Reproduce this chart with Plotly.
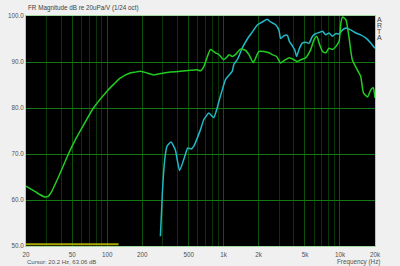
import plotly.graph_objects as go

# ---- data ----
green_f = [20, 24, 28.6, 31, 33.3, 38, 46.3, 52.9, 60, 76, 99, 115, 129, 157, 174, 192, 220, 250,
           306, 350, 426, 520, 592, 632, 676, 720, 771, 850, 910, 1000, 1060, 1113, 1186, 1262, 1396,
           1548, 1650, 1798, 2010, 2222, 2448, 2618, 2852, 3090, 3400, 3660, 4020, 4300, 4600, 5060,
           5600, 5980, 6325, 6620, 7080, 7540, 8040, 8640, 9240, 9830, 10180, 10530, 11240, 11920,
           12760, 14080, 15060, 15920, 17270, 18440, 19320, 20000]
green_db = [63.0, 61.8, 60.7, 60.8, 61.9, 65.0, 70.0, 73.0, 75.5, 80.0, 83.6, 85.3, 86.5, 87.6, 87.8, 88.0, 87.6, 87.2,
            87.6, 87.8, 88.0, 88.2, 88.3, 88.1, 89.0, 91.0, 92.7, 92.0, 91.6, 90.5, 91.0, 91.6, 91.2, 91.6, 92.8,
            92.5, 91.6, 89.9, 92.3, 92.3, 92.0, 91.6, 91.2, 89.8, 90.5, 90.9, 90.5, 90.1, 90.5, 90.9,
            92.7, 94.8, 95.6, 94.1, 92.3, 92.0, 93.0, 92.7, 93.4, 94.5, 98.5, 99.8, 99.2, 95.6,
            90.5, 88.3, 86.9, 83.3, 82.4, 84.0, 84.4, 82.2]

cyan_f = [286, 292, 298, 306, 316, 326, 353, 384, 418, 454, 492, 526, 554, 632, 676, 747, 796, 822,
          880, 910, 974, 1040, 1186, 1225, 1310, 1444, 1598, 1760, 1940, 2152, 2370, 2530, 2800, 2988,
          3090, 3300, 3530, 3670, 3900, 4100, 4240, 4440, 4740, 5060, 5420, 5800, 6200, 6620, 7080,
          7540, 8040, 8600, 9240, 9830, 10530, 11240, 12340, 13700, 15060, 16720, 18440, 20000]
cyan_db = [52.1, 57.0, 62.0, 66.6, 70.0, 71.7, 72.6, 70.9, 66.4, 68.8, 71.3, 71.1, 71.7, 75.3, 77.5, 78.9, 78.2, 77.9,
           80.0, 81.4, 84.0, 86.2, 88.0, 89.5, 90.5, 93.0, 95.0, 96.5, 98.0, 98.7, 99.3, 98.7, 98.1, 96.9,
           95.1, 95.7, 95.8, 94.5, 93.5, 92.5, 91.2, 92.7, 94.1, 94.3, 94.1, 95.6, 96.2, 96.4, 96.7,
           95.9, 96.3, 95.6, 96.2, 96.1, 97.0, 97.4, 97.0, 96.3, 95.9, 95.2, 94.1, 93.0]

yellow_f = [20, 125]
yellow_db = [50.4, 50.4]

x_major = [20, 50, 100, 200, 500, 1000, 2000, 5000, 10000, 20000]
x_major_text = ["20", "50", "100", "200", "500", "1k", "2k", "5k", "10k", "20k"]
x_minor = [30, 40, 60, 70, 80, 90, 300, 400, 600, 700, 800, 900,
           3000, 4000, 6000, 7000, 8000, 9000]
y_ticks = [50, 60, 70, 80, 90, 100]
y_tick_text = ["50.0", "60.0", "70.0", "80.0", "90.0", "100.0"]

title_text = "FR Magnitude dB re 20uPa/V (1/24 oct)"
cursor_text = "Cursor: 20.2 Hz, 63.06 dB"
xlabel_text = "Frequency (Hz)"
brand = "ARTA"

FONT = "Liberation Sans"
TXT = "#505050"

fig = go.Figure()
fig.add_trace(go.Scatter(x=yellow_f, y=yellow_db, mode="lines",
                         line=dict(color="#a8a800", width=2), hoverinfo="skip"))
fig.add_trace(go.Scatter(x=cyan_f, y=cyan_db, mode="lines",
                         line=dict(color="#22b8c8", width=1.5, shape="spline", smoothing=0.5),
                         hoverinfo="skip"))
fig.add_trace(go.Scatter(x=green_f, y=green_db, mode="lines",
                         line=dict(color="#22cc22", width=1.5, shape="spline", smoothing=0.5),
                         hoverinfo="skip"))

fig.update_layout(
    width=400, height=266,
    margin=dict(l=26, r=25, t=16, b=20),
    paper_bgcolor="#f0f0f0",
    plot_bgcolor="#000000",
    showlegend=False,
    font=dict(family=FONT, size=6.3, color=TXT),
)
fig.update_xaxes(
    type="log", range=[1.30103, 4.30103],
    tickmode="array", tickvals=x_major, ticktext=x_major_text,
    showgrid=True, gridcolor="#0b520b", gridwidth=1,
    minor=dict(tickmode="array", tickvals=x_minor, showgrid=True, gridcolor="#073507", gridwidth=1),
    ticks="", zeroline=False, ticklabelstandoff=2, automargin=False,
    showline=True, linecolor="#a0d8a0", linewidth=1, mirror=True,
    tickfont=dict(family=FONT, size=6.3, color=TXT),
)
fig.update_yaxes(
    range=[50, 100],
    tickmode="array", tickvals=y_ticks, ticktext=y_tick_text,
    showgrid=True, gridcolor="#137813", gridwidth=1,
    ticks="", zeroline=False, automargin=False,
    showline=True, linecolor="#a0d8a0", linewidth=1, mirror=True,
    tickfont=dict(family=FONT, size=6.3, color=TXT),
)

ann = []
ann.append(dict(text=title_text, xref="paper", yref="paper", x=0, y=1.036,
                xanchor="left", yanchor="middle", showarrow=False,
                font=dict(family=FONT, size=6.3, color="#404040")))
ann.append(dict(text=cursor_text, xref="paper", yref="paper", x=-0.003, y=-0.07,
                xanchor="left", yanchor="middle", showarrow=False,
                font=dict(family=FONT, size=6.0, color=TXT)))
ann.append(dict(text=xlabel_text, xref="paper", yref="paper", x=(335 - 26) / 349, y=-0.07,
                xanchor="left", yanchor="middle", showarrow=False,
                font=dict(family=FONT, size=6.3, color=TXT)))
for i, ch in enumerate(brand):
    py = 19.3 + 6.3 * i
    ann.append(dict(text=ch, xref="paper", yref="paper", x=(379.5 - 26) / 349,
                    y=(246.3 - py) / 230, xanchor="center", yanchor="middle",
                    showarrow=False, font=dict(family=FONT, size=7, color="#404040")))
fig.update_layout(annotations=ann)

fig.write_html("out.html")
